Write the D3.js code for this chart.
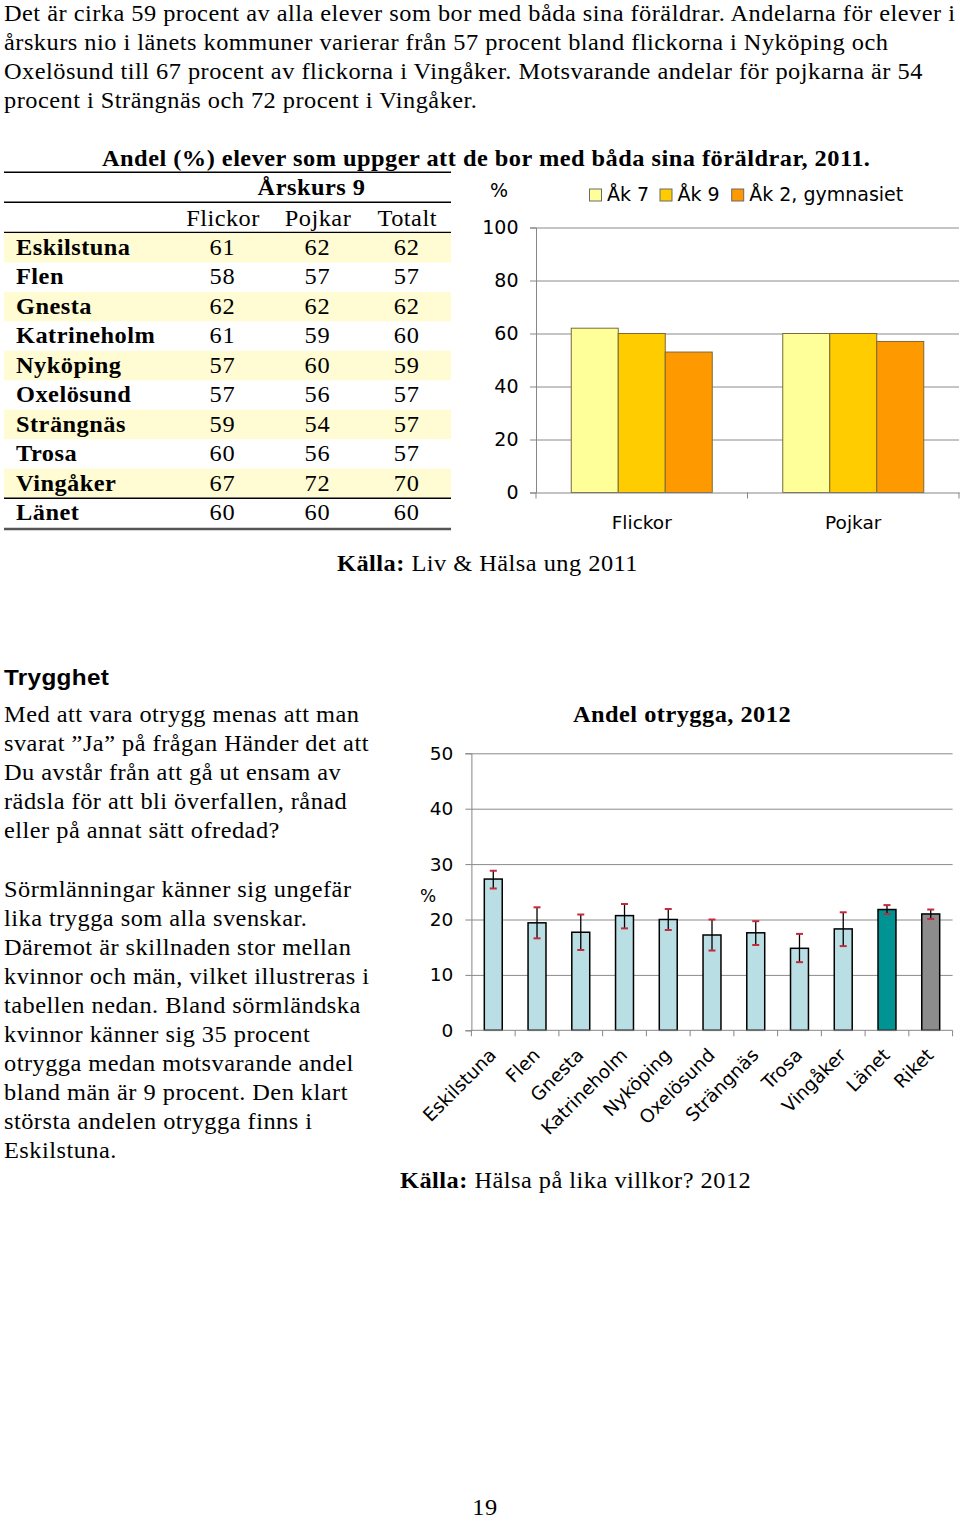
<!DOCTYPE html>
<html><head><meta charset="utf-8">
<script src="https://cdn.jsdelivr.net/npm/d3@7"></script>
<style>html,body{margin:0;padding:0;background:#fff;}</style>
</head><body>
<svg id="page" width="960" height="1521"></svg>
<script>
// ---------- DATA ----------
const introLines = [
  "Det är cirka 59 procent av alla elever som bor med båda sina föräldrar. Andelarna för elever i",
  "årskurs nio i länets kommuner varierar från 57 procent bland flickorna i Nyköping och",
  "Oxelösund till 67 procent av flickorna i Vingåker. Motsvarande andelar för pojkarna är 54",
  "procent i Strängnäs och 72 procent i Vingåker."
];
const tableTitle = "Andel (%) elever som uppger att de bor med båda sina föräldrar, 2011.";
const tableHeader = "Årskurs 9";
const tableCols = ["Flickor", "Pojkar", "Totalt"];
const kommuner = ["Eskilstuna","Flen","Gnesta","Katrineholm","Nyköping","Oxelösund","Strängnäs","Trosa","Vingåker","Länet"];
const flickor = [61,58,62,61,57,57,59,60,67,60];
const pojkar  = [62,57,62,59,60,56,54,56,72,60];
const totalt  = [62,57,62,60,59,57,57,57,70,60];
const highlighted = ["Eskilstuna","Gnesta","Nyköping","Strängnäs","Vingåker"];

const groups1 = ["Flickor","Pojkar"];
const series1 = ["Åk 7","Åk 9","Åk 2, gymnasiet"];
const ak7 = [62,60];
const ak9 = [60,60];
const ak2 = [53,57];
const yTicks1 = [0,20,40,60,80,100];
const source1Bold = "Källa:";
const source1 = " Liv & Hälsa ung 2011";

const heading2 = "Trygghet";
const bodyLines2a = [
  "Med att vara otrygg menas att man",
  "svarat ”Ja” på frågan Händer det att",
  "Du avstår från att gå ut ensam av",
  "rädsla för att bli överfallen, rånad",
  "eller på annat sätt ofredad?"
];
const bodyLines2b = [
  "Sörmlänningar känner sig ungefär",
  "lika trygga som alla svenskar.",
  "Däremot är skillnaden stor mellan",
  "kvinnor och män, vilket illustreras i",
  "tabellen nedan. Bland sörmländska",
  "kvinnor känner sig 35 procent",
  "otrygga medan motsvarande andel",
  "bland män är 9 procent. Den klart",
  "största andelen otrygga finns i",
  "Eskilstuna."
];
const title2 = "Andel otrygga, 2012";
const orter = ["Eskilstuna","Flen","Gnesta","Katrineholm","Nyköping","Oxelösund","Strängnäs","Trosa","Vingåker","Länet","Riket"];
const otrygga = [27.3,19.4,17.7,20.7,20.0,17.2,17.6,14.8,18.3,21.8,21.0];
const lower   = [25.6,16.6,14.5,18.4,18.1,14.4,15.4,12.3,15.2,21.0,20.1];
const upper   = [28.8,22.2,20.9,22.8,21.9,20.0,19.7,17.4,21.3,22.6,21.8];
const yTicks2 = [0,10,20,30,40,50];
const source2Bold = "Källa:";
const source2 = " Hälsa på lika villkor? 2012";
const pageNumber = "19";

// ---------- STYLE ----------
const SERIF = "'Liberation Serif','Times New Roman',serif";
const SANS_ARIAL = "'Liberation Sans',Arial,sans-serif";
const SANS = "'DejaVu Sans',Verdana,sans-serif";
const FS = 23, SX = 1.06, LS = 0.45;

const svg = d3.select("#page");
svg.append("rect").attr("width",960).attr("height",1521).attr("fill","#fff");

function txt(g, x, y, s, o = {}) {
  return g.append("text")
    .attr("transform", `translate(${x},${y}) scale(${o.sx ?? SX},1)`)
    .attr("font-family", o.family || SERIF)
    .attr("font-size", o.size || FS)
    .attr("font-weight", o.weight || "normal")
    .attr("letter-spacing", o.ls ?? LS)
    .attr("text-anchor", o.anchor || "start")
    .attr("fill", o.fill || "#000")
    .text(s);
}

// ---------- INTRO ----------
introLines.forEach((l, i) => txt(svg, 4, 20.5 + i * 29.3, l));

// ---------- TABLE ----------
const tbl = svg.append("g");
const tX0 = 4, tX1 = 451;
const rowY0 = 255, rowH = 29.45;
const colX = [222.5, 317.5, 406.7];
kommuner.forEach((k, i) => {
  if (highlighted.includes(k)) {
    tbl.append("rect").attr("x", tX0).attr("y", rowY0 + i * rowH - 22)
      .attr("width", tX1 - tX0).attr("height", rowH).attr("fill", "#fffbd2");
  }
});
txt(tbl, 102, 165.5, tableTitle, { weight: "bold" });
txt(tbl, 311.5, 195, tableHeader, { weight: "bold", anchor: "middle" });
tableCols.forEach((c, j) => txt(tbl, colX[j] + 0.5, 225.5, c, { anchor: "middle" }));
kommuner.forEach((k, i) => {
  const y = rowY0 + i * rowH;
  txt(tbl, 16, y, k, { weight: "bold" });
  [flickor[i], pojkar[i], totalt[i]].forEach((v, j) => txt(tbl, colX[j], y, String(v), { anchor: "middle", ls: 0.8 }));
});
const hl = (y, w, c) => tbl.append("line").attr("x1", tX0).attr("x2", tX1).attr("y1", y).attr("y2", y)
  .attr("stroke", c).attr("stroke-width", w);
hl(172.3, 1.5, "#000");
hl(202.3, 1.5, "#000");
hl(232.3, 1.2, "#000");
hl(498.3, 1.5, "#000");
hl(529, 2.5, "#555");

// source 1
const s1 = svg.append("text").attr("transform", `translate(337,571) scale(${SX},1)`)
  .attr("font-family", SERIF).attr("font-size", FS).attr("letter-spacing", LS);
s1.append("tspan").attr("font-weight", "bold").text(source1Bold);
s1.append("tspan").text(source1);

// ---------- CHART 1 ----------
const c1 = svg.append("g");
const x1 = d3.scaleBand().domain(groups1).range([536, 959]).padding(0);
const xs1 = d3.scaleBand().domain(series1).range([0, x1.bandwidth()]).paddingInner(0).paddingOuter(0.75);
const y1 = d3.scaleLinear().domain([0, 100]).range([492.5, 227.5]);
const color1 = d3.scaleOrdinal().domain(series1).range(["#ffff99", "#ffcc00", "#ff9900"]);
const vals1 = [ak7, ak9, ak2];

c1.append("g").attr("transform", "translate(536,0)")
  .call(d3.axisLeft(y1).tickValues(yTicks1.slice(1)).tickSize(-(959 - 536)).tickFormat(""))
  .call(g => g.select(".domain").remove())
  .call(g => g.selectAll("line").attr("stroke", "#8a8a8a"));

groups1.forEach((gname, gi) => {
  series1.forEach((sname, si) => {
    const v = vals1[si][gi];
    c1.append("rect")
      .attr("x", x1(gname) + xs1(sname)).attr("width", xs1.bandwidth())
      .attr("y", y1(v)).attr("height", y1(0) - y1(v))
      .attr("fill", color1(sname)).attr("stroke", "#7a6a3a").attr("stroke-width", 1);
  });
});

c1.append("g").attr("transform", "translate(536,0)")
  .call(d3.axisLeft(y1).tickValues(yTicks1).tickSize(6).tickPadding(11.5))
  .call(g => g.selectAll("line,.domain").attr("stroke", "#868686"))
  .call(g => g.selectAll("text").attr("font-family", SANS).attr("font-size", 19).attr("fill", "#000"));

c1.append("g").attr("transform", `translate(0,${y1(0)})`)
  .call(d3.axisBottom(x1).tickSize(0).tickPadding(23))
  .call(g => g.select(".domain").attr("stroke", "#868686"))
  .call(g => g.selectAll("text").attr("font-family", SANS).attr("font-size", 18.5).attr("fill", "#000"));
const b1 = groups1.map(g => x1(g)).concat([x1.range()[1]]);
b1.forEach(bx => c1.append("line").attr("x1", bx).attr("x2", bx).attr("y1", y1(0)).attr("y2", y1(0) + 6).attr("stroke", "#868686"));

c1.append("text").attr("x", 499).attr("y", 197).attr("text-anchor", "middle")
  .attr("font-family", SANS).attr("font-size", 19).text("%");

// legend
const legX = [589.5, 660, 731.7];
series1.forEach((s, i) => {
  c1.append("rect").attr("x", legX[i]).attr("y", 189).attr("width", 12).attr("height", 12)
    .attr("fill", color1(s)).attr("stroke", "#6a6a6a").attr("stroke-width", 1);
  c1.append("text").attr("x", legX[i] + 17.5).attr("y", 201)
    .attr("font-family", SANS).attr("font-size", 19).text(s);
});

// ---------- SECTION 2 TEXT ----------
txt(svg, 4, 685, heading2, { family: SANS_ARIAL, weight: "bold", size: 22.5, sx: 1.08, ls: 0.3 });
bodyLines2a.forEach((l, i) => txt(svg, 4, 721.5 + i * 29.2, l));
bodyLines2b.forEach((l, i) => txt(svg, 4, 897 + i * 29.0, l));

// ---------- CHART 2 ----------
const c2 = svg.append("g");
txt(c2, 682, 721.5, title2, { weight: "bold", anchor: "middle" });
const x2 = d3.scaleBand().domain(orter).range([471.4, 952.6]).paddingInner(0.59).paddingOuter(0.295);
const y2 = d3.scaleLinear().domain([0, 50]).range([1030.3, 753.3]);
const fill2 = d => d === "Länet" ? "#009393" : d === "Riket" ? "#8c8c8c" : "#b9dee4";

c2.append("g").attr("transform", "translate(471.4,0)")
  .call(d3.axisLeft(y2).tickValues(yTicks2.slice(1)).tickSize(-(952.6 - 471.4)).tickFormat(""))
  .call(g => g.select(".domain").remove())
  .call(g => g.selectAll("line").attr("stroke", "#8a8a8a"));

orter.forEach((o, i) => {
  c2.append("rect").attr("x", x2(o)).attr("width", x2.bandwidth())
    .attr("y", y2(otrygga[i])).attr("height", y2(0) - y2(otrygga[i]))
    .attr("fill", fill2(o)).attr("stroke", "#000").attr("stroke-width", 1.5);
  const cx = x2(o) + x2.bandwidth() / 2;
  c2.append("line").attr("x1", cx).attr("x2", cx).attr("y1", y2(lower[i])).attr("y2", y2(upper[i]))
    .attr("stroke", "#000").attr("stroke-width", 1.3);
  [lower[i], upper[i]].forEach(v => c2.append("line").attr("x1", cx - 3.5).attr("x2", cx + 3.5)
    .attr("y1", y2(v)).attr("y2", y2(v)).attr("stroke", "#c8283c").attr("stroke-width", 2));
});

c2.append("g").attr("transform", "translate(471.4,0)")
  .call(d3.axisLeft(y2).tickValues(yTicks2).tickSize(6).tickPadding(12))
  .call(g => g.selectAll("line,.domain").attr("stroke", "#868686"))
  .call(g => g.selectAll("text").attr("font-family", SANS).attr("font-size", 18.5).attr("fill", "#000"));

c2.append("line").attr("x1", 471.4).attr("x2", 952.6).attr("y1", y2(0)).attr("y2", y2(0)).attr("stroke", "#868686");
const step2 = x2.step();
d3.range(orter.length + 1).forEach(i => {
  const bx = 471.4 + i * step2;
  c2.append("line").attr("x1", bx).attr("x2", bx).attr("y1", y2(0)).attr("y2", y2(0) + 6).attr("stroke", "#868686");
});
orter.forEach(o => {
  const cx = x2(o) + x2.bandwidth() / 2;
  c2.append("text").attr("transform", `translate(${cx + 4},${y2(0) + 26}) rotate(-45)`)
    .attr("text-anchor", "end").attr("font-family", SANS).attr("font-size", 18.5).text(o);
});
c2.append("text").attr("x", 428).attr("y", 902).attr("text-anchor", "middle")
  .attr("font-family", SANS).attr("font-size", 17).text("%");

const s2 = svg.append("text").attr("transform", `translate(400,1188) scale(${SX},1)`)
  .attr("font-family", SERIF).attr("font-size", FS).attr("letter-spacing", LS);
s2.append("tspan").attr("font-weight", "bold").text(source2Bold);
s2.append("tspan").text(source2);

txt(svg, 485, 1515, pageNumber, { anchor: "middle" });
</script>
</body></html>
